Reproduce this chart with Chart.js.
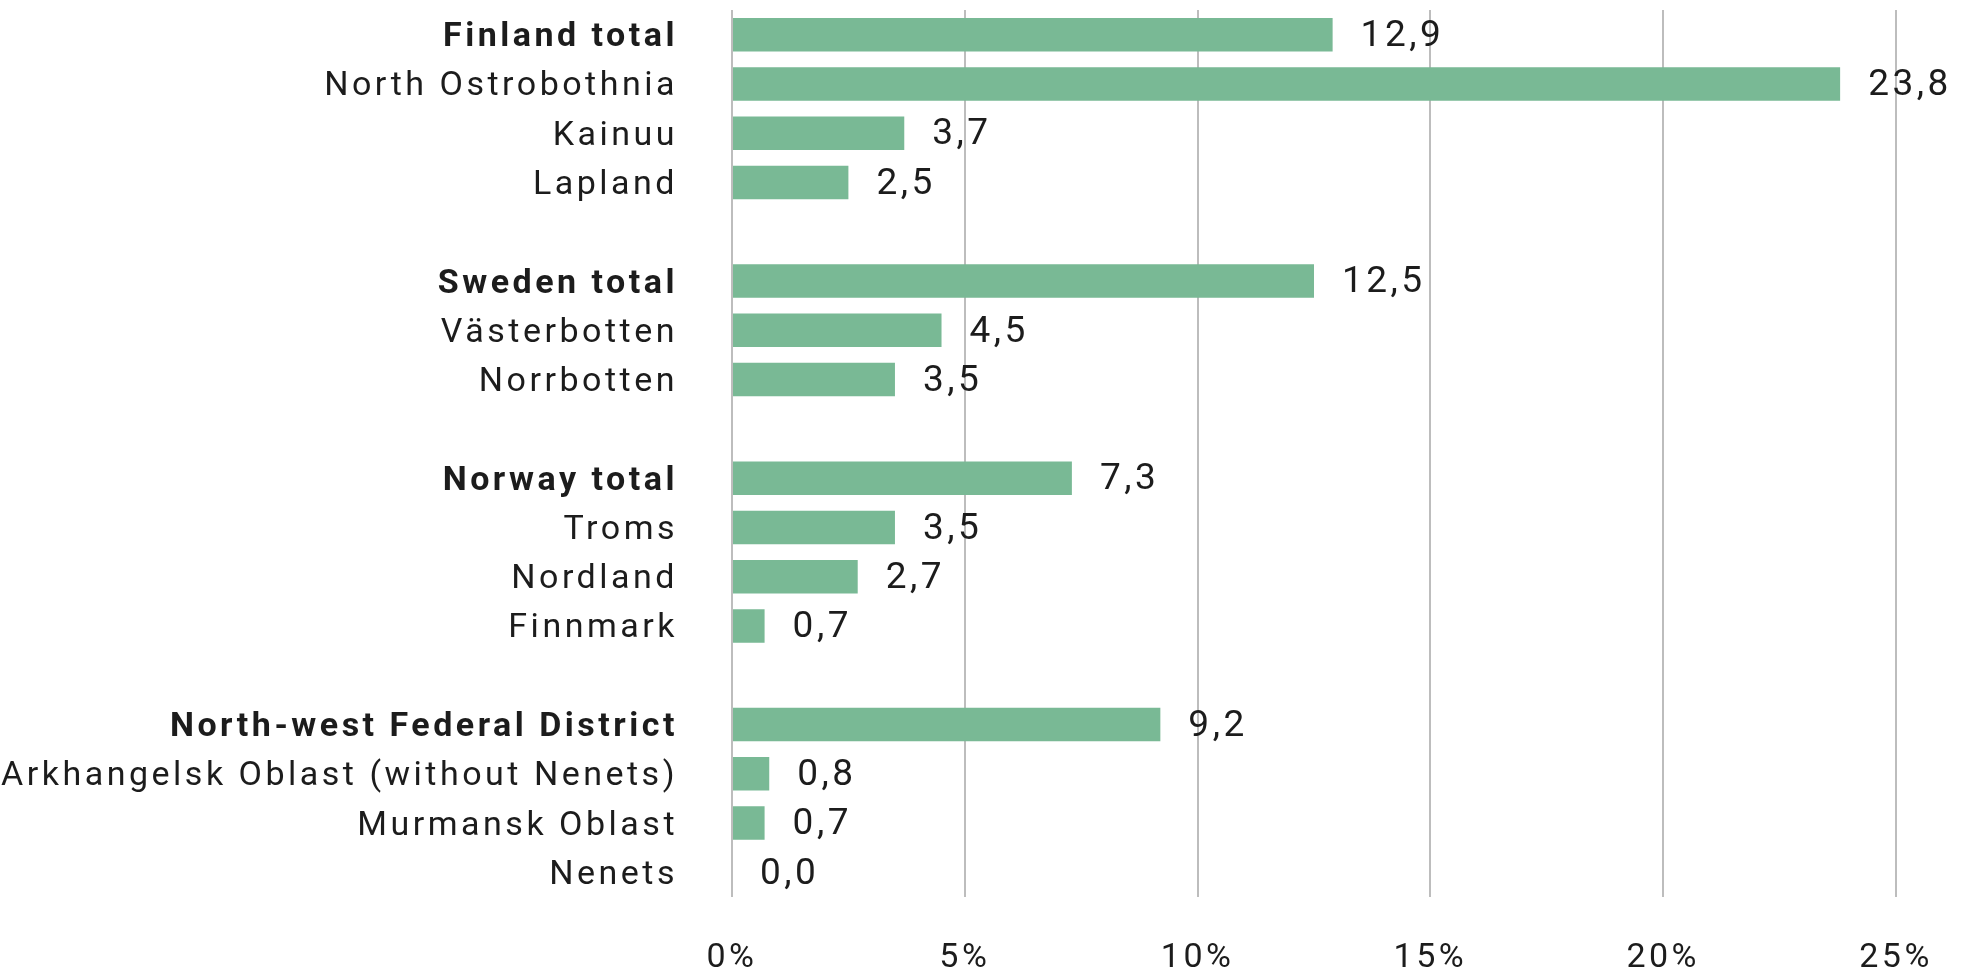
<!DOCTYPE html>
<html>
<head>
<meta charset="utf-8">
<script src="https://cdn.jsdelivr.net/npm/chart.js@4/dist/chart.umd.min.js"></script>
<style>
    html, body { margin: 0; padding: 0; background: #fff; overflow: hidden; }
    #shareChart { display: block; width: 1961px; height: 976px; }
</style>
</head>
<body>
<canvas id="shareChart" width="1961" height="976"></canvas>
<script>
// Regions, with blank rows between the country groups
const regions = [
    'Finland total', 'North Ostrobothnia', 'Kainuu', 'Lapland', '',
    'Sweden total', 'Västerbotten', 'Norrbotten', '',
    'Norway total', 'Troms', 'Nordland', 'Finnmark', '',
    'North-west Federal District', 'Arkhangelsk Oblast (without Nenets)', 'Murmansk Oblast', 'Nenets'
];
const shares = [
    12.9, 23.8, 3.7, 2.5, null,
    12.5, 4.5, 3.5, null,
    7.3, 3.5, 2.7, 0.7, null,
    9.2, 0.8, 0.7, 0.0
];
const totals = ['Finland total', 'Sweden total', 'Norway total', 'North-west Federal District'];
const xTicks = [0, 5, 10, 15, 20, 25];

const FONT = 'Roboto, "Open Sans", sans-serif';
const TEXT = '#1c1c1c';
const SPACING = '3.5px';

// The reference type is loosely tracked, so widen the letter spacing on the canvas
const tracking = {
    id: 'tracking',
    beforeLayout(chart) { chart.ctx.letterSpacing = SPACING; },
    beforeDraw(chart) { chart.ctx.letterSpacing = SPACING; }
};

// Draw the value next to each bar, with a decimal comma
const valueLabels = {
    id: 'valueLabels',
    afterDatasetsDraw(chart) {
        const ctx = chart.ctx;
        const meta = chart.getDatasetMeta(0);
        ctx.save();
        ctx.letterSpacing = SPACING;
        ctx.font = '37px ' + FONT;
        ctx.fillStyle = TEXT;
        ctx.textAlign = 'left';
        ctx.textBaseline = 'middle';
        meta.data.forEach((bar, i) => {
            const v = shares[i];
            if (v === null || v === undefined) return;
            ctx.fillText(v.toFixed(1).replace('.', ','), bar.x + 28, bar.y + 2);
        });
        ctx.restore();
    }
};

new Chart(document.getElementById('shareChart'), {
    type: 'bar',
    data: {
        labels: regions,
        datasets: [{
            data: shares,
            backgroundColor: '#79b995',
            borderWidth: 0,
            categoryPercentage: 1,
            barPercentage: 0.68
        }]
    },
    options: {
        indexAxis: 'y',
        responsive: false,
        animation: false,
        layout: { padding: { left: 0, right: 65, top: 10, bottom: 0 } },
        plugins: {
            legend: { display: false },
            tooltip: { enabled: false }
        },
        scales: {
            x: {
                min: 0,
                max: 25,
                afterBuildTicks: (scale) => { scale.ticks = xTicks.map(v => ({ value: v })); },
                afterFit: (scale) => {
                    scale.height = 79;
                    scale.paddingLeft = 0;
                    scale.paddingRight = 0;
                },
                grid: { color: '#bdbdbd', lineWidth: 2, drawTicks: false },
                border: { display: false },
                ticks: {
                    padding: 41,
                    color: TEXT,
                    font: { family: FONT, size: 34 },
                    callback: (v) => v + '%'
                }
            },
            y: {
                afterFit: (scale) => {
                    scale.width = 732;
                    scale.paddingTop = 0;
                    scale.paddingBottom = 0;
                },
                grid: { display: false, drawTicks: false },
                border: { display: false },
                ticks: {
                    padding: 54,
                    labelOffset: 3,
                    color: TEXT,
                    autoSkip: false,
                    font: (ctx) => ({
                        family: FONT,
                        size: 34,
                        weight: totals.includes(regions[ctx.index]) ? 'bold' : 'normal'
                    })
                }
            }
        }
    },
    plugins: [tracking, valueLabels]
});
</script>
</body>
</html>
